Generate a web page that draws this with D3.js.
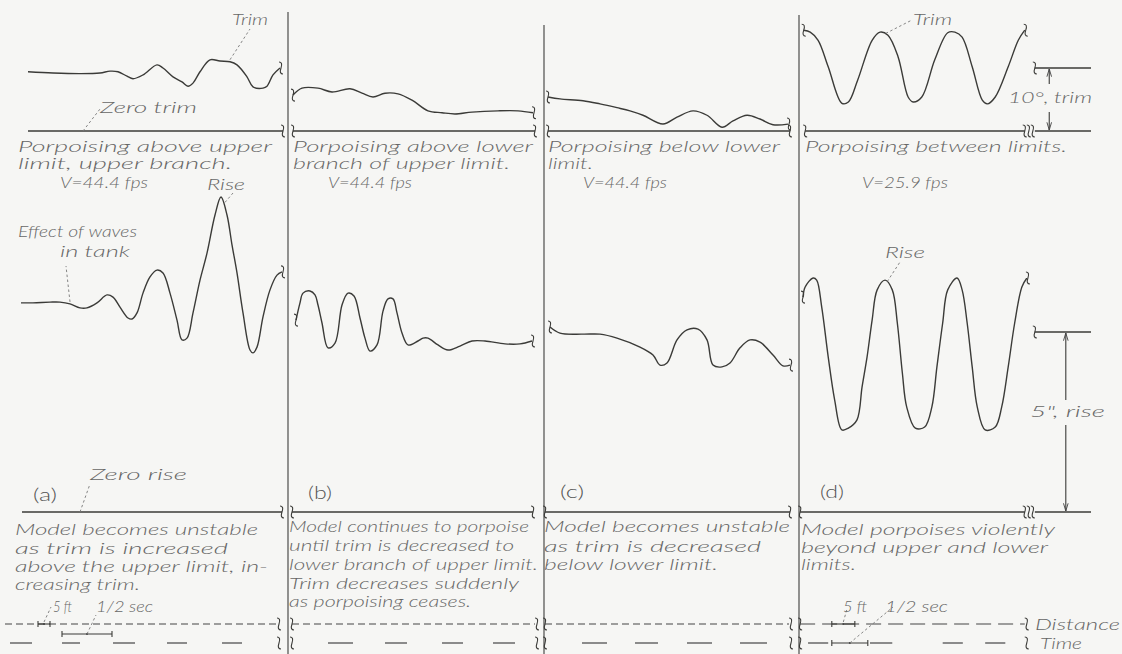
<!DOCTYPE html>
<meta charset="utf-8">
<head>
  <title>Porpoising records</title>
</head>
<style>
body { margin: 0; background: #f6f6f4; }
svg { display: block; }
.trace { fill: none; stroke: #3b3b38; stroke-width: 1.4px; stroke-linejoin: round; }
.base { fill: none; stroke: #3b3b38; stroke-width: 1.3px; }
.sep { stroke: #5a5a58; stroke-width: 1.3px; }
.brace { fill: none; stroke: #3b3b38; stroke-width: 1.1px; }
.lead { fill: none; stroke: #777; stroke-width: 0.9px; stroke-dasharray: 2.5,2.5; }
.dist { fill: none; stroke: #444; stroke-width: 1.2px; }
.lbl { font-family: Lato, "Open Sans", sans-serif; font-style: italic; font-weight: 300; fill: #666; font-size: 15px; }
.tag { font-family: Lato, "Open Sans", sans-serif; font-weight: 300; fill: #555; font-size: 18px; }
</style>
<body>
<svg width="1122" height="654"></svg>
<script src="https://cdnjs.cloudflare.com/ajax/libs/d3/7.8.5/d3.min.js"></script>
<script>
// trim records: [time s, trim deg]; rise records: [time s, rise in]
var trimA = [[0.03,9.4],[0.28,9.2],[0.55,9.1],[0.75,9.2],[0.85,9.5],[0.93,9.4],[1.02,8.7],[1.08,8.3],[1.18,8.9],[1.32,10.5],[1.38,10.0],[1.48,8.6],[1.57,7.8],[1.63,7.1],[1.68,7.6],[1.75,9.4],[1.85,11.3],[1.95,11.1],[2.05,11.0],[2.12,10.5],[2.22,8.6],[2.28,7.0],[2.38,6.8],[2.42,7.1],[2.48,8.9],[2.55,10.0]];
var riseA = [[-0.04,5.81],[0.08,5.81],[0.25,5.83],[0.35,5.83],[0.45,5.78],[0.55,5.67],[0.62,5.67],[0.72,5.81],[0.82,6.03],[0.88,5.97],[0.95,5.69],[1.03,5.39],[1.07,5.36],[1.12,5.53],[1.18,6.08],[1.25,6.53],[1.32,6.72],[1.38,6.64],[1.45,6.08],[1.52,5.33],[1.57,4.78],[1.62,4.83],[1.68,5.53],[1.75,6.44],[1.82,7.19],[1.90,8.25],[1.96,8.75],[2.02,8.25],[2.07,7.42],[2.12,6.64],[2.18,5.53],[2.25,4.50],[2.28,4.42],[2.32,4.58],[2.38,5.42],[2.45,6.17],[2.52,6.58],[2.57,6.67]];

var trimB = [[0.01,5.7],[0.10,6.8],[0.26,6.8],[0.40,6.2],[0.58,6.7],[0.70,6.0],[0.81,5.4],[0.93,6.0],[1.06,5.9],[1.20,4.9],[1.36,3.2],[1.50,2.9],[1.63,2.7],[1.80,3.0],[2.06,3.2],[2.26,3.2],[2.41,2.9]];
var riseB = [[0.04,5.33],[0.08,5.81],[0.11,6.08],[0.18,6.14],[0.23,6.03],[0.26,5.75],[0.30,5.25],[0.36,4.56],[0.43,4.69],[0.50,5.75],[0.56,6.08],[0.62,6.00],[0.68,5.39],[0.73,4.83],[0.78,4.47],[0.85,4.64],[0.91,5.58],[0.96,5.92],[1.01,5.92],[1.05,5.53],[1.10,4.97],[1.16,4.64],[1.26,4.75],[1.31,4.83],[1.36,4.83],[1.46,4.64],[1.56,4.50],[1.68,4.61],[1.80,4.75],[1.93,4.75],[2.13,4.67],[2.28,4.67],[2.40,4.75]];

var trimC = [[0.01,5.4],[0.13,5.1],[0.36,4.8],[0.53,4.3],[0.70,3.7],[0.83,3.2],[0.96,2.5],[1.16,1.1],[1.30,2.2],[1.46,3.2],[1.60,2.5],[1.75,0.6],[1.86,1.6],[2.00,2.5],[2.13,1.9],[2.26,1.0],[2.41,1.1]];
var riseC = [[0.03,5.14],[0.13,4.97],[0.36,4.94],[0.53,4.94],[0.70,4.83],[0.93,4.58],[1.06,4.36],[1.13,4.08],[1.20,4.14],[1.30,4.78],[1.40,5.06],[1.51,5.08],[1.60,4.78],[1.66,4.08],[1.75,4.03],[1.83,4.14],[1.93,4.56],[2.03,4.78],[2.13,4.72],[2.26,4.36],[2.36,4.06],[2.43,4.08]];

var trimD = [[0.01,16.0],[0.10,15.7],[0.21,14.4],[0.35,10.2],[0.54,4.4],[0.63,4.6],[0.76,8.1],[0.96,14.4],[1.07,15.7],[1.18,15.2],[1.32,11.8],[1.46,5.4],[1.53,4.6],[1.65,5.4],[1.83,11.3],[2.01,15.6],[2.11,15.7],[2.21,14.9],[2.35,10.2],[2.49,4.9],[2.56,4.3],[2.67,5.4],[2.85,10.2],[2.99,14.4],[3.08,16.0]];
var riseD = [[0.00,5.97],[0.03,6.25],[0.14,6.50],[0.19,6.44],[0.26,5.69],[0.35,4.31],[0.44,3.11],[0.54,2.28],[0.63,2.33],[0.75,2.56],[0.82,3.47],[0.89,4.31],[0.96,5.33],[1.03,6.17],[1.14,6.44],[1.24,6.17],[1.31,5.25],[1.38,3.86],[1.44,2.92],[1.56,2.33],[1.69,2.36],[1.79,2.92],[1.86,4.03],[1.94,5.25],[2.01,6.17],[2.14,6.50],[2.21,6.17],[2.28,5.25],[2.35,4.03],[2.42,2.92],[2.53,2.28],[2.67,2.36],[2.76,2.92],[2.85,4.03],[2.94,5.25],[3.04,6.25],[3.11,6.50]];

// time marks on the timing line, [start, end] s
var timeA = [[-0.15,0.07],[0.37,0.55],[0.88,1.10],[1.42,1.62],[1.97,2.17]];
var timeB = [[0.36,0.61],[0.93,1.15],[1.50,1.71],[2.01,2.23]];
var timeC = [[0.35,0.60],[0.88,1.11],[1.40,1.65],[1.93,2.20]];
var timeD = [[0.07,0.35],[0.93,1.24],[1.94,2.22],[2.53,2.81]];

var panelTags = ["(a)", "(b)", "(c)", "(d)"];
var speeds = ["V=44.4 fps", "V=44.4 fps", "V=44.4 fps", "V=25.9 fps"];
var titles = [
  ["Porpoising above upper", "limit, upper branch."],
  ["Porpoising above lower", "branch of upper limit."],
  ["Porpoising below lower", "limit."],
  ["Porpoising between limits."]
];
var notes = [
  ["Model becomes unstable", "as trim is increased", "above the upper limit, in-", "creasing trim."],
  ["Model continues to porpoise", "until trim is decreased to", "lower branch of upper limit.", "Trim decreases suddenly", "as porpoising ceases."],
  ["Model becomes unstable", "as trim is decreased", "below lower limit."],
  ["Model porpoises violently", "beyond upper and lower", "limits."]
];

var svg = d3.select("svg");

var yTrim = d3.scaleLinear().domain([0, 10]).range([131, 68]);
var yRise = d3.scaleLinear().domain([0, 5]).range([512, 332]);
var yDist = 624, yTime = 643;

var panels = [
  {x0: 25,  pps: 100, trim: trimA, rise: riseA, time: timeA, trimSpan: [0.03, 2.58], riseSpan: [-0.03, 2.57], distSpan: [-0.2, 2.52], left: false, dash: "7,4",
   tagPos: [33, 501], titleX: 18, titleW: [254, 214], vPos: [60, 188, 88],
   noteX: 15, noteY: [535, 554, 572, 590], noteW: [243, 213, 253, 125]},
  {x0: 292, pps: 100, trim: trimB, rise: riseB, time: timeB, trimSpan: [0.01, 2.43], riseSpan: [0, 2.41], distSpan: [0, 2.43], left: true, dash: "7,4",
   tagPos: [308, 499], titleX: 293, titleW: [240, 217], vPos: [328, 188, 84],
   noteX: 289, noteY: [532, 551, 570, 589, 607], noteW: [240, 225, 249, 230, 182]},
  {x0: 547, pps: 100, trim: trimC, rise: riseC, time: timeC, trimSpan: [0.01, 2.43], riseSpan: [-0.02, 2.43], distSpan: [-0.02, 2.42], left: true, dash: "7,4",
   tagPos: [560, 498], titleX: 548, titleW: [232, 45], vPos: [583, 188, 84],
   noteX: 544, noteY: [532, 552, 570], noteW: [246, 217, 174]},
  {x0: 803, pps: 72,  trim: trimD, rise: riseD, time: timeD, trimSpan: [0.03, 3.08], riseSpan: [-0.04, 3.08], distSpan: [-0.04, 3.08], left: true, dash: "15,7",
   tagPos: [820, 498], titleX: 805, titleW: [262], vPos: [862, 188, 86],
   noteX: 801, noteY: [535, 553, 570], noteW: [254, 247, 55]}
];

function text(str, x, y, w, cls) {
  var t = svg.append("text").attr("class", cls || "lbl").attr("x", x).attr("y", y).text(str);
  if (w) t.attr("textLength", w).attr("lengthAdjust", "spacingAndGlyphs");
  return t;
}
function brace(x, y) {
  svg.append("path").attr("class", "brace")
    .attr("d", "M" + (x - 2) + "," + (y - 6) + "Q" + (x + 2) + "," + (y - 6) + " " + x + "," + y + "Q" + (x - 2) + "," + (y + 6) + " " + (x + 2) + "," + (y + 6));
}
function lead(x1, y1, x2, y2) {
  svg.append("line").attr("class", "lead").attr("x1", x1).attr("y1", y1).attr("x2", x2).attr("y2", y2);
}
function hline(x1, x2, y, cls) {
  return svg.append("line").attr("class", cls || "base").attr("x1", x1).attr("x2", x2).attr("y1", y).attr("y2", y);
}
function bracket(x1, x2, y) {
  hline(x1, x2, y, "brace");
  [x1, x2].forEach(function(x) {
    svg.append("line").attr("class", "brace").attr("x1", x).attr("x2", x).attr("y1", y - 3).attr("y2", y + 3);
  });
  svg.append("circle").attr("cx", (x1 + x2) / 2).attr("cy", y).attr("r", 1).attr("fill", "#444");
}

// panel separators
[[288, 12], [544, 25], [799, 15]].forEach(function(s) {
  svg.append("line").attr("class", "sep").attr("x1", s[0]).attr("x2", s[0]).attr("y1", s[1]).attr("y2", 654);
});

var line = d3.line().curve(d3.curveCatmullRom.alpha(0.5));

panels.forEach(function(p, i) {
  var x = d3.scaleLinear().domain([0, 1]).range([p.x0, p.x0 + p.pps]);
  p.x = x;

  // trim trace and zero trim line
  var tr = p.trim.map(function(d) { return [x(d[0]), yTrim(d[1])]; });
  svg.append("path").attr("class", "trace").attr("d", line(tr));
  hline(x(p.trimSpan[0]), x(p.trimSpan[1]), yTrim(0));
  brace(x(p.trimSpan[1]), yTrim(0));
  brace(tr[tr.length - 1][0] + 1, tr[tr.length - 1][1]);
  if (p.left) { brace(x(p.trimSpan[0]), yTrim(0)); brace(tr[0][0], tr[0][1]); }

  // rise trace and zero rise line
  var rs = p.rise.map(function(d) { return [x(d[0]), yRise(d[1])]; });
  svg.append("path").attr("class", "trace").attr("d", line(rs));
  hline(x(p.riseSpan[0]), x(p.riseSpan[1]), yRise(0));
  brace(x(p.riseSpan[1]), yRise(0));
  brace(rs[rs.length - 1][0] + 1, rs[rs.length - 1][1]);
  if (p.left) { brace(x(p.riseSpan[0]), yRise(0)); brace(rs[0][0], rs[0][1]); }

  // distance and time lines
  hline(x(p.distSpan[0]), x(p.distSpan[1]), yDist, "dist").attr("stroke-dasharray", p.dash);
  brace(x(p.distSpan[1]) + 2, yDist);
  svg.selectAll(null).data(p.time).enter().append("line").attr("class", "dist")
    .attr("x1", function(d) { return x(d[0]); }).attr("x2", function(d) { return x(d[1]); })
    .attr("y1", yTime).attr("y2", yTime);
  brace(x(p.distSpan[1]) + 2, yTime);
  if (p.left) { brace(x(p.distSpan[0]), yDist); brace(x(p.distSpan[0]), yTime); }

  // text
  titles[i].forEach(function(s, j) { text(s, p.titleX, 152 + j * 17, p.titleW[j]); });
  text(speeds[i], p.vPos[0], p.vPos[1], p.vPos[2]);
  notes[i].forEach(function(s, j) { text(s, p.noteX, p.noteY[j], p.noteW[j]); });
  text(panelTags[i], p.tagPos[0], p.tagPos[1], 24, "tag");
});

// panel (a) annotations
var xa = panels[0].x, xd = panels[3].x;
text("Trim", 232, 25, 36);
lead(xa(2.05), yTrim(11.0) - 2, 250, 29);
text("Zero trim", 100, 113, 97);
lead(xa(0.58), yTrim(0), 100, 109);
text("Effect of waves", 18, 237, 119);
text("in tank", 60, 257, 70);
lead(xa(0.45), yRise(5.78) - 2, 66, 266);
text("Rise", 207, 190, 38);
lead(xa(2.0), yRise(8.6), 233, 193);
text("Zero rise", 90, 480, 97);
lead(xa(0.55), yRise(0), 90, 484);

// scale keys, panel (a)
bracket(xa(0.13), xa(0.25), yDist);
bracket(xa(0.37), xa(0.87), yTime - 9);
lead(xa(0.19), yDist - 2, 51, 607);
lead(xa(0.62), yTime - 9, 96, 615);
text("5 ft", 53, 612, 19);
text("1/2 sec", 96, 612, 57);

// panel (d) annotations
text("Trim", 913, 25, 39);
lead(xd(1.15), yTrim(15.5), 912, 20);
text("Rise", 885, 258, 40);
lead(xd(1.17), yRise(6.4), 900, 262);

// reference scales at right of panel (d)
var refX = [xd(3.22), xd(4.0)];
var arrowTrim = xd(3.42), arrowRise = xd(3.65);
svg.append("defs").append("marker").attr("id", "ah").attr("viewBox", "0 0 10 10")
  .attr("refX", 10).attr("refY", 5).attr("markerWidth", 7).attr("markerHeight", 7).attr("orient", "auto")
  .append("path").attr("d", "M0,2L10,5L0,8").attr("fill", "none").attr("stroke", "#444").attr("stroke-width", 1.2);

hline(refX[0], refX[1], yTrim(10));
hline(refX[0], refX[1], yTrim(0));
brace(refX[0], yTrim(10));
brace(refX[0] - 2, yTrim(0)); brace(refX[0] - 6, yTrim(0));
svg.append("line").attr("class", "brace").attr("x1", arrowTrim).attr("x2", arrowTrim).attr("y1", 84).attr("y2", yTrim(10) + 1).attr("marker-end", "url(#ah)");
svg.append("line").attr("class", "brace").attr("x1", arrowTrim).attr("x2", arrowTrim).attr("y1", 112).attr("y2", yTrim(0) - 1).attr("marker-end", "url(#ah)");
text("10\u00b0, trim", 1008, 103, 84);

hline(refX[0], refX[1], yRise(5));
hline(refX[0], refX[1], yRise(0));
brace(refX[0], yRise(5));
brace(refX[0] - 2, yRise(0)); brace(refX[0] - 6, yRise(0));
svg.append("line").attr("class", "brace").attr("x1", arrowRise).attr("x2", arrowRise).attr("y1", 400).attr("y2", yRise(5) + 1).attr("marker-end", "url(#ah)");
svg.append("line").attr("class", "brace").attr("x1", arrowRise).attr("x2", arrowRise).attr("y1", 425).attr("y2", yRise(0) - 1).attr("marker-end", "url(#ah)");
text("5\", rise", 1030, 417, 75);

// scale keys, panel (d)
bracket(xd(0.40), xd(0.72), yDist);
bracket(xd(0.40), xd(0.90), yTime);
lead(xd(0.56), yDist - 2, 847, 609);
lead(xd(0.65), yTime, 893, 607);
text("5 ft", 843, 612, 24);
text("1/2 sec", 885, 612, 63);
text("Distance", 1035, 630, 85);
text("Time", 1040, 649, 42);
</script>
</body>
</html>
